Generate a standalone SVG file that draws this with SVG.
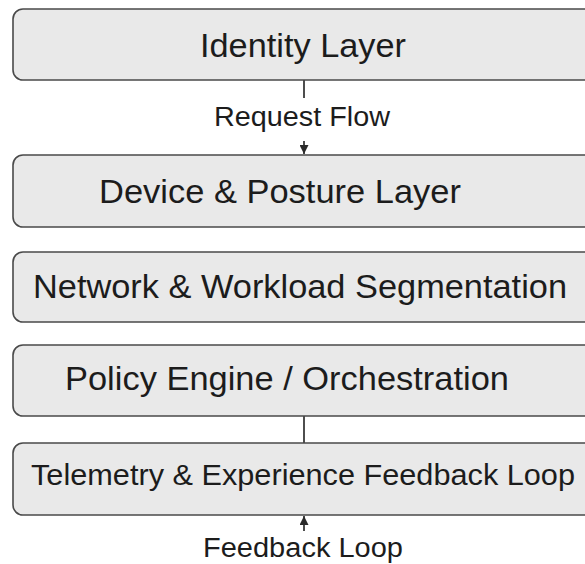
<svg xmlns="http://www.w3.org/2000/svg" width="585" height="564" viewBox="0 0 585 564">
  <style>
    .box { fill: #e9e9e9; stroke: #4a4a4a; stroke-width: 1.6; }
    .lbl { font-family: "Liberation Sans", Arial, sans-serif; fill: #1c1c1c; }
    .big { font-size: 33px; }
    .small { font-size: 27px; }
    .conn { stroke: #3a3a3a; stroke-width: 1.8; fill: none; }
  </style>
  <defs>
    <marker id="arrow" markerUnits="userSpaceOnUse" markerWidth="9" markerHeight="9" refX="9" refY="4.5" orient="auto">
      <path d="M0,0 L9,4.5 L0,9 z" fill="#2a2a2a"/>
    </marker>
  </defs>
  <rect width="585" height="564" fill="#ffffff"/>

  <g id="connectors">
    <line class="conn" x1="304" y1="80" x2="304" y2="98"/>
    <line class="conn" x1="304" y1="141" x2="304" y2="154" marker-end="url(#arrow)"/>
    <line class="conn" x1="304" y1="416" x2="304" y2="443"/>
    <line class="conn" x1="304" y1="531" x2="304" y2="516" marker-end="url(#arrow)"/>
    <text class="lbl small" x="214" y="126" textLength="176" lengthAdjust="spacingAndGlyphs">Request Flow</text>
    <text class="lbl small" x="203" y="557" textLength="200" lengthAdjust="spacingAndGlyphs">Feedback Loop</text>
  </g>

  <g id="identity-layer">
    <rect class="box" x="13" y="9" width="610" height="71" rx="10"/>
    <text class="lbl big" x="200" y="57" textLength="206" lengthAdjust="spacingAndGlyphs">Identity Layer</text>
  </g>

  <g id="device-posture-layer">
    <rect class="box" x="13" y="155" width="610" height="72" rx="10"/>
    <text class="lbl big" x="99" y="203" textLength="362" lengthAdjust="spacingAndGlyphs">Device &amp; Posture Layer</text>
  </g>

  <g id="network-workload-segmentation">
    <rect class="box" x="13" y="252" width="610" height="70" rx="10"/>
    <text class="lbl big" x="33" y="298" textLength="534" lengthAdjust="spacingAndGlyphs">Network &amp; Workload Segmentation</text>
  </g>

  <g id="policy-engine">
    <rect class="box" x="13" y="345" width="610" height="71" rx="10"/>
    <text class="lbl big" x="65" y="390" textLength="444" lengthAdjust="spacingAndGlyphs">Policy Engine / Orchestration</text>
  </g>

  <g id="telemetry-feedback">
    <rect class="box" x="13" y="443" width="610" height="72" rx="10"/>
    <text class="lbl big" x="31" y="485" font-size="30" style="font-size:30px" textLength="544" lengthAdjust="spacingAndGlyphs">Telemetry &amp; Experience Feedback Loop</text>
  </g>
</svg>
